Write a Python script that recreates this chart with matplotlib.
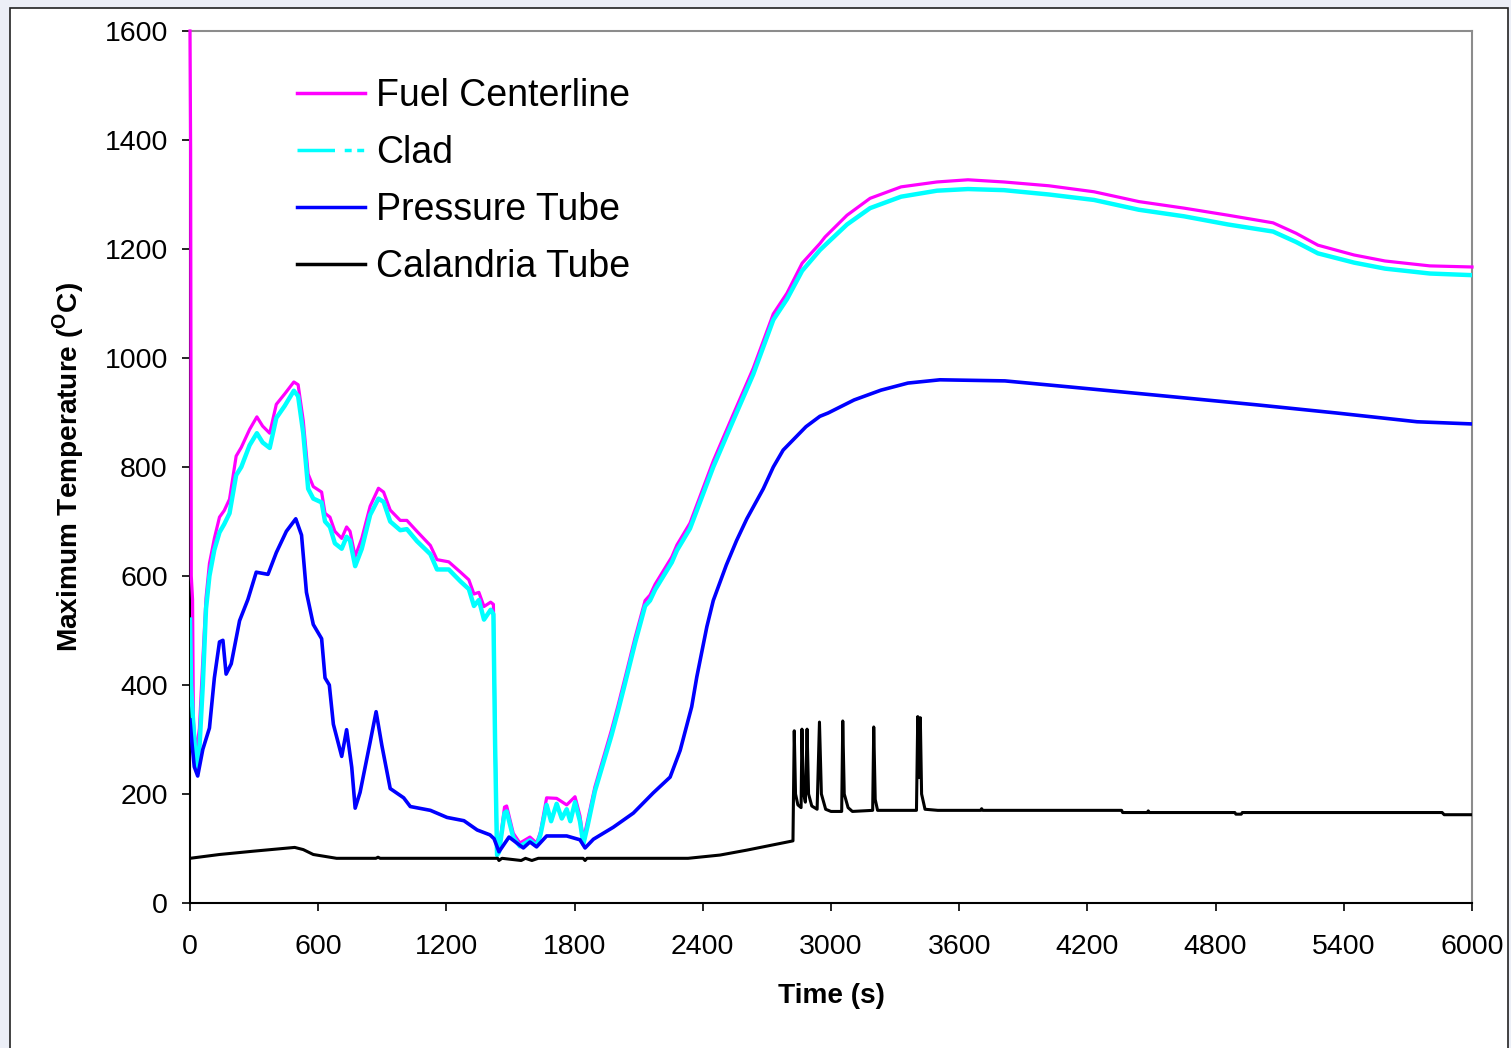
import matplotlib.pyplot as plt
from matplotlib.patches import Rectangle

plt.rcParams['font.family'] = ['Liberation Sans', 'DejaVu Sans']
plt.rcParams['lines.scale_dashes'] = False

# Fuel centerline (magenta)
fuel_t = [0, 3, 6, 12, 16, 28, 44, 60, 75, 91, 114, 138, 160, 185, 216, 240, 279, 313, 340, 373,
          404, 443, 486, 506, 530, 553, 577, 616, 632, 655, 678, 710, 733, 749, 773, 804, 843, 882,
          906, 937, 984, 1015, 1062, 1125, 1156, 1211, 1266, 1305, 1329, 1352, 1376, 1407, 1420,
          1428, 1437, 1446, 1472, 1482, 1513, 1544, 1591, 1622, 1640, 1669, 1716, 1763, 1802, 1825,
          1841, 1860, 1895, 1973, 2003, 2036, 2083, 2130, 2153, 2177, 2255, 2279, 2340, 2449, 2543,
          2636, 2730, 2794, 2865, 2948, 2972, 3075, 3183, 3328, 3496, 3641, 3809, 4020, 4231, 4441,
          4652, 4858, 5069, 5176, 5279, 5448, 5593, 5803, 6000]
fuel_T = [1600, 1380, 600, 557, 334, 275, 320, 446, 560, 623, 669, 708, 720, 741, 820, 836, 869, 892, 875, 862,
          915, 934, 956, 951, 885, 787, 764, 754, 715, 708, 682, 669, 690, 682, 636, 669, 728, 761,
          754, 721, 702, 702, 682, 656, 630, 626, 607, 593, 567, 570, 544, 552, 548,
          300, 92, 97, 176, 178, 128, 110, 121, 110, 130, 193, 192, 180, 195, 160,
          116, 150, 213, 318, 362, 413, 487, 555, 565, 585, 635, 657, 697, 811, 897,
          981, 1081, 1119, 1174, 1210, 1222, 1262, 1293, 1314, 1323, 1327, 1323, 1316, 1305, 1287,
          1275, 1262, 1248, 1229, 1207, 1189, 1178, 1169, 1167]

# Clad (cyan)
clad_t = [0, 5, 15, 30, 45, 60, 75, 91, 114, 138, 160, 185, 216, 240, 279, 313, 340, 373, 404, 443,
          486, 506, 530, 553, 577, 616, 632, 655, 678, 710, 733, 749, 773, 804, 843, 882, 906, 937,
          984, 1015, 1062, 1125, 1156, 1211, 1266, 1305, 1329, 1352, 1376, 1407, 1420, 1428, 1437,
          1446, 1472, 1482, 1513, 1544, 1591, 1622, 1640, 1669, 1690, 1716, 1740, 1763, 1780, 1802,
          1825, 1841, 1860, 1895, 1973, 2003, 2036, 2083, 2130, 2153, 2177, 2255, 2279, 2340, 2449,
          2543, 2636, 2730, 2794, 2865, 2948, 2972, 3075, 3183, 3328, 3496, 3641, 3809, 4020, 4231,
          4441, 4652, 4858, 5069, 5176, 5279, 5448, 5593, 5803, 6000]
clad_T = [520, 400, 330, 245, 290, 400, 540, 600, 648, 680, 695, 715, 785, 800, 840, 862, 845, 835, 890, 912,
          940, 930, 862, 760, 742, 735, 700, 690, 660, 650, 672, 665, 618, 650, 712, 742, 736, 700,
          684, 686, 664, 640, 612, 612, 590, 576, 545, 556, 520, 538, 530, 290, 88,
          93, 165, 168, 120, 104, 115, 105, 125, 180, 150, 182, 155, 172, 150, 185,
          150, 108, 140, 205, 308, 352, 403, 477, 545, 555, 575, 625, 647, 687, 800,
          886, 970, 1070, 1108, 1160, 1198, 1207, 1245, 1275, 1296, 1307, 1310, 1308, 1300, 1290,
          1272, 1260, 1245, 1232, 1213, 1192, 1175, 1164, 1155, 1152]

# Pressure tube (blue)
pt_t = [0, 10, 20, 36, 60, 91, 114, 138, 154, 169, 193, 232, 271, 310, 365, 404, 451, 495, 522, 545,
        577, 616, 632, 652, 671, 710, 733, 757, 773, 796, 843, 871, 898, 937, 1000, 1031, 1125, 1203,
        1282, 1344, 1404, 1423, 1446, 1493, 1560, 1591, 1622, 1669, 1763, 1825, 1849, 1888, 1981,
        2075, 2168, 2247, 2294, 2348, 2372, 2419, 2449, 2510, 2558, 2606, 2683, 2730, 2776, 2883,
        2948, 2986, 3108, 3234, 3360, 3510, 3814, 4114, 4516, 4994, 5368, 5743, 6000]
pt_T = [336, 290, 250, 233, 282, 321, 413, 479, 482, 420, 439, 518, 557, 607, 603, 643, 682, 705, 675, 570,
        511, 485, 413, 400, 328, 269, 318, 249, 174, 203, 295, 351, 289, 210, 193, 177, 170, 157,
        151, 134, 125, 118, 94, 121, 101, 112, 103, 123, 123, 116, 101, 117, 139,
        165, 202, 231, 280, 360, 415, 507, 555, 620, 665, 705, 760, 800, 831, 874,
        893, 899, 923, 941, 954, 960, 958, 947, 932, 914, 899, 883, 879]

# Calandria tube (black)
ct_t = [0, 138, 295, 490, 530, 577, 686, 870, 880, 890, 1440, 1446, 1460, 1550, 1570, 1600, 1630, 1840,
        1849, 1858, 2331, 2481, 2606, 2822, 2828, 2834, 2845, 2860, 2864, 2870, 2880, 2888, 2895,
        2910, 2935, 2946, 2955, 2975, 3000, 3050, 3055, 3062, 3080, 3100, 3195, 3200, 3207, 3218,
        3400, 3406, 3412, 3418, 3424, 3440, 3500, 3700, 3705, 3710, 4360, 4365, 4480, 4485, 4490,
        4890, 4895, 4920, 4925, 5860, 5870, 6000]
ct_T = [82, 89, 95, 102, 98, 89, 82, 82, 84, 82, 82, 78, 82, 78, 82, 78, 82, 82,
        78, 82, 82, 88, 97, 114, 316, 200, 180, 175, 319, 205, 185, 319, 200,
        178, 172, 332, 200, 172, 168, 168, 334, 200, 175, 168, 170, 323, 190, 170,
        170, 342, 230, 340, 200, 172, 170, 170, 173, 170, 170, 166, 166, 169, 166,
        166, 163, 163, 166, 166, 162, 162]

x_ticks = [0, 600, 1200, 1800, 2400, 3000, 3600, 4200, 4800, 5400, 6000]
y_ticks = [0, 200, 400, 600, 800, 1000, 1200, 1400, 1600]

fig = plt.figure(figsize=(15.11, 10.48), dpi=100, facecolor='#eceff7')
# white chart frame behind the axes
fig.patches.append(Rectangle((10 / 1511, -0.01), 1498 / 1511, 1 - 8 / 1048 + 0.01,
                             transform=fig.transFigure, facecolor='white',
                             edgecolor='#222222', linewidth=1.2, zorder=-5))
ax = fig.add_axes([190 / 1511, 1 - 903 / 1048, 1282 / 1511, 872 / 1048])
ax.set_zorder(2)
ax.patch.set_alpha(0)

ax.plot(fuel_t, fuel_T, color='#ff00ff', lw=2.3, label='Fuel Centerline', zorder=3, clip_on=False)
ax.plot(clad_t, clad_T, color='#00ffff', lw=3.2, label='Clad', zorder=4)
ax.plot(pt_t, pt_T, color='#0000ff', lw=2.6, label='Pressure Tube', zorder=5)
ax.plot(ct_t, ct_T, color='black', lw=2.2, label='Calandria Tube', zorder=6)

ax.set_xlim(0, 6000)
ax.set_ylim(0, 1600)
ax.set_xticks(x_ticks)
ax.set_yticks(y_ticks)
ax.tick_params(direction='out', length=6, width=1.2, labelsize=20.5)
ax.tick_params(axis='y', pad=10)
ax.tick_params(axis='x', pad=16)

for side in ['top', 'right']:
    ax.spines[side].set_color('#8c8c8c')
    ax.spines[side].set_linewidth(1.5)
for side in ['left', 'bottom']:
    ax.spines[side].set_linewidth(1.5)

ax.set_xlabel('Time (s)', fontsize=20.2, fontweight='bold', labelpad=17)
ax.set_ylabel(r'Maximum Temperature ($^{\mathregular{O}}$C)', fontsize=20.2, fontweight='bold', labelpad=13)

leg = ax.legend(loc='upper left', bbox_to_anchor=(0.0835, 0.946), frameon=False, fontsize=27,
                handlelength=1.8, handletextpad=0.3, labelspacing=0.56, borderpad=0, borderaxespad=0)
leg.get_lines()[1].set_dashes((27, 7, 5, 4, 5, 7))
for ln in leg.get_lines():
    ln.set_linewidth(2.5)

plt.savefig('out.png', dpi=100, facecolor=fig.get_facecolor())
